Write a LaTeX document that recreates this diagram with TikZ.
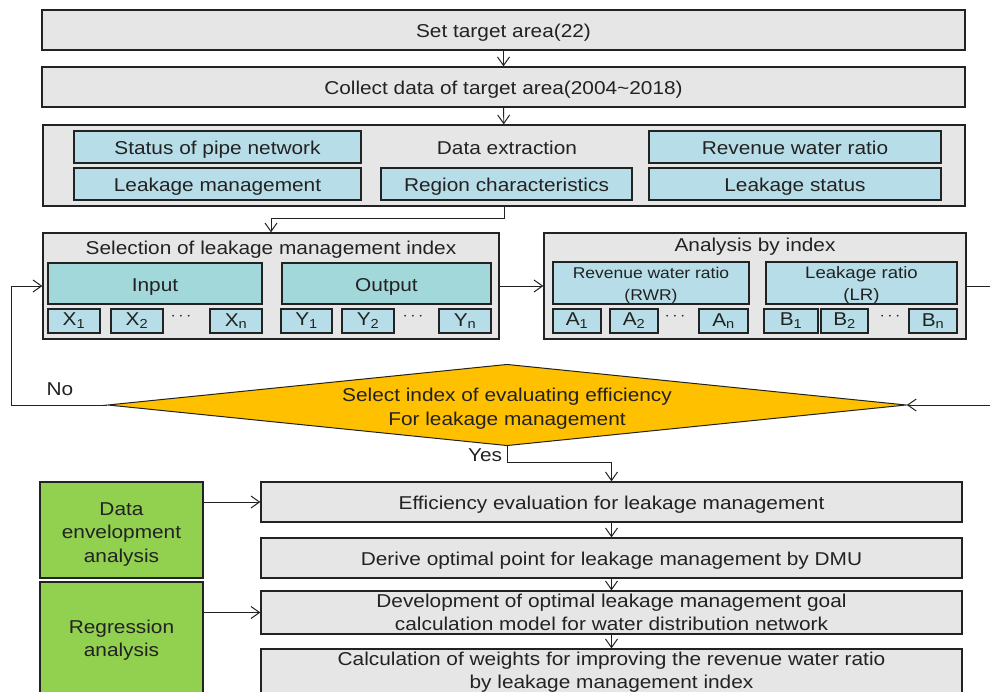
\documentclass[tikz,border=0pt]{standalone}
\usepackage{fontspec}
\setmainfont{Liberation Sans}[FakeStretch=1.12]
\usetikzlibrary{arrows.meta,shapes.geometric}

\definecolor{boxgray}{HTML}{E6E6E6}
\definecolor{palecyan}{HTML}{B7DEE8}
\definecolor{tealbox}{HTML}{A3D8DA}
\definecolor{leaf}{HTML}{92D050}
\definecolor{amber}{HTML}{FFC000}
\definecolor{ink}{HTML}{222222}

\newcommand\mainsize{\fontsize{18.6}{23.5}\selectfont}
\newcommand\smallsize{\fontsize{15.6}{22}\selectfont}

\tikzset{
  wh/.style 2 args={minimum width=#1, minimum height=#2},
  frame/.style={draw=ink, line width=1.3pt, fill=boxgray, inner sep=0pt,
    font=\mainsize, text=ink, align=center},
  oneline/.style={text height=15.8pt, text depth=0pt},
  cell/.style={frame, fill=palecyan},
  tcell/.style={frame, fill=tealbox},
  method/.style={frame, fill=leaf},
  label/.style={inner sep=0pt, font=\mainsize, text=ink, align=center},
  flow/.style={draw=ink, line width=0.9pt,
    -{Straight Barb[length=8.5pt,width=12pt,line width=1pt]}},
}

\begin{document}
\begin{tikzpicture}[x=1pt, y=-1pt]
\useasboundingbox (0,0) rectangle (990,692);

% top steps
\node[frame, oneline, wh={923}{40}] (settarget) at (503.5,30) {Set target area(22)};
\node[frame, oneline, wh={923}{40}] (collect) at (503.5,87) {Collect data of target area(2004\textasciitilde2018)};

% data extraction group
\node[frame, wh={922}{81}] (extract) at (504,165.5) {};
\node[label] (extracttitle) at (507,147.5) {Data extraction};
\node[cell, oneline, wh={287}{32}] (pipe) at (217.5,147) {Status of pipe network};
\node[cell, oneline, wh={287}{32}] (leakmgmt) at (217.5,184) {Leakage management};
\node[cell, oneline, wh={251}{32}] (region) at (506.5,184) {Region characteristics};
\node[cell, oneline, wh={292}{32}] (rwrdata) at (795,147) {Revenue water ratio};
\node[cell, oneline, wh={292}{32}] (leakstatus) at (795,184) {Leakage status};

% selection of leakage management index
\node[frame, wh={456}{106}] (select) at (271,286) {};
\node[label] (selecttitle) at (271,250) {Selection of leakage management index};
\node[tcell, oneline, wh={214}{41}] (input) at (155,283.5) {Input};
\node[tcell, oneline, wh={209}{41}] (output) at (386.5,283.5) {Output};
\node[cell, wh={52}{24}] (x1) at (74,321) {X\textsubscript{1}};
\node[cell, wh={52}{24}] (x2) at (137,321) {X\textsubscript{2}};
\node[label] (xdots) at (181,317) {$\cdots$};
\node[cell, wh={52}{24}] (xn) at (236,321) {X\textsubscript{n}};
\node[cell, wh={51}{24}] (y1) at (306.5,321) {Y\textsubscript{1}};
\node[cell, wh={52}{24}] (y2) at (368,321) {Y\textsubscript{2}};
\node[label] (ydots) at (413,317) {$\cdots$};
\node[cell, wh={52}{24}] (yn) at (465,321) {Y\textsubscript{n}};

% analysis by index
\node[frame, wh={422}{106}] (analysis) at (755,286) {};
\node[label] (analysistitle) at (755,247) {Analysis by index};
\node[cell, wh={196}{42}, font=\smallsize] (rwr) at (651,283) {\rule{0pt}{16.5pt}Revenue water ratio\\(RWR)};
\node[cell, wh={191}{42}, font=\fontsize{16.6}{22}\selectfont] (lr) at (861.5,283) {\rule{0pt}{16.5pt}Leakage ratio\\(LR)};
\node[cell, wh={48}{24}] (a1) at (577,321) {A\textsubscript{1}};
\node[cell, wh={48}{24}] (a2) at (634,321) {A\textsubscript{2}};
\node[label] (adots) at (675,317) {$\cdots$};
\node[cell, wh={49}{24}] (an) at (723.5,321) {A\textsubscript{n}};
\node[cell, wh={54}{24}] (b1) at (791,321) {B\textsubscript{1}};
\node[cell, wh={47}{24}] (b2) at (844.5,321) {B\textsubscript{2}};
\node[label] (bdots) at (890,317) {$\cdots$};
\node[cell, wh={48}{24}] (bn) at (933,321) {B\textsubscript{n}};

% decision
\node[shape=diamond, draw=ink, line width=1pt, fill=amber, aspect=9.8,
  wh={787}{80}, inner sep=0pt, font=\mainsize, text=ink, align=center]
  (choose) at (507,405) {\rule{0pt}{20.5pt}Select index of evaluating efficiency\\For leakage management};
\node[label] (no) at (60,389.5) {No};
\node[label] (yes) at (485,455) {Yes};

% evaluation steps
\node[frame, oneline, wh={701}{40}] (eff) at (611.5,502) {Efficiency evaluation for leakage management};
\node[frame, oneline, wh={701}{40}] (derive) at (611.5,558) {Derive optimal point for leakage management by DMU};
\node[frame, wh={701}{43}] (devel) at (611.5,612.5) {Development of optimal leakage management goal\\calculation model for water distribution network};
\node[frame, wh={701}{46}] (weights) at (611.5,672) {Calculation of weights for improving the revenue water ratio\\by leakage management index};

% methods
\node[method, wh={163}{96}] (dea) at (121.5,530) {\rule{0pt}{21.5pt}Data\\envelopment\\analysis};
\node[method, wh={163}{116}] (regr) at (121.5,640) {Regression\\analysis};

% connectors
\draw[flow] (settarget) -- (collect);
\draw[flow] (collect) -- (extract);
\coordinate (ebend) at (504,218);
\draw[flow] (extract.south) -- (ebend) -| (select.north);
\draw[flow] (select) -- (analysis);
\coordinate (rightrail) at (1000,286);
\draw[flow] (analysis.east) -- (rightrail) |- (choose.east);
\coordinate (leftrail) at (11,405);
\draw[flow] (choose.west) -- (leftrail) |- (select.west);
\coordinate (ybend) at (507,462);
\draw[flow] (choose.south) -- (ybend) -| (eff.north);
\draw[flow] (eff) -- (derive);
\draw[flow] (derive) -- (devel);
\draw[flow] (devel) -- (weights);
\draw[flow] (dea.east |- eff.west) -- (eff.west);
\draw[flow] (regr.east |- devel.west) -- (devel.west);
\end{tikzpicture}
\end{document}
